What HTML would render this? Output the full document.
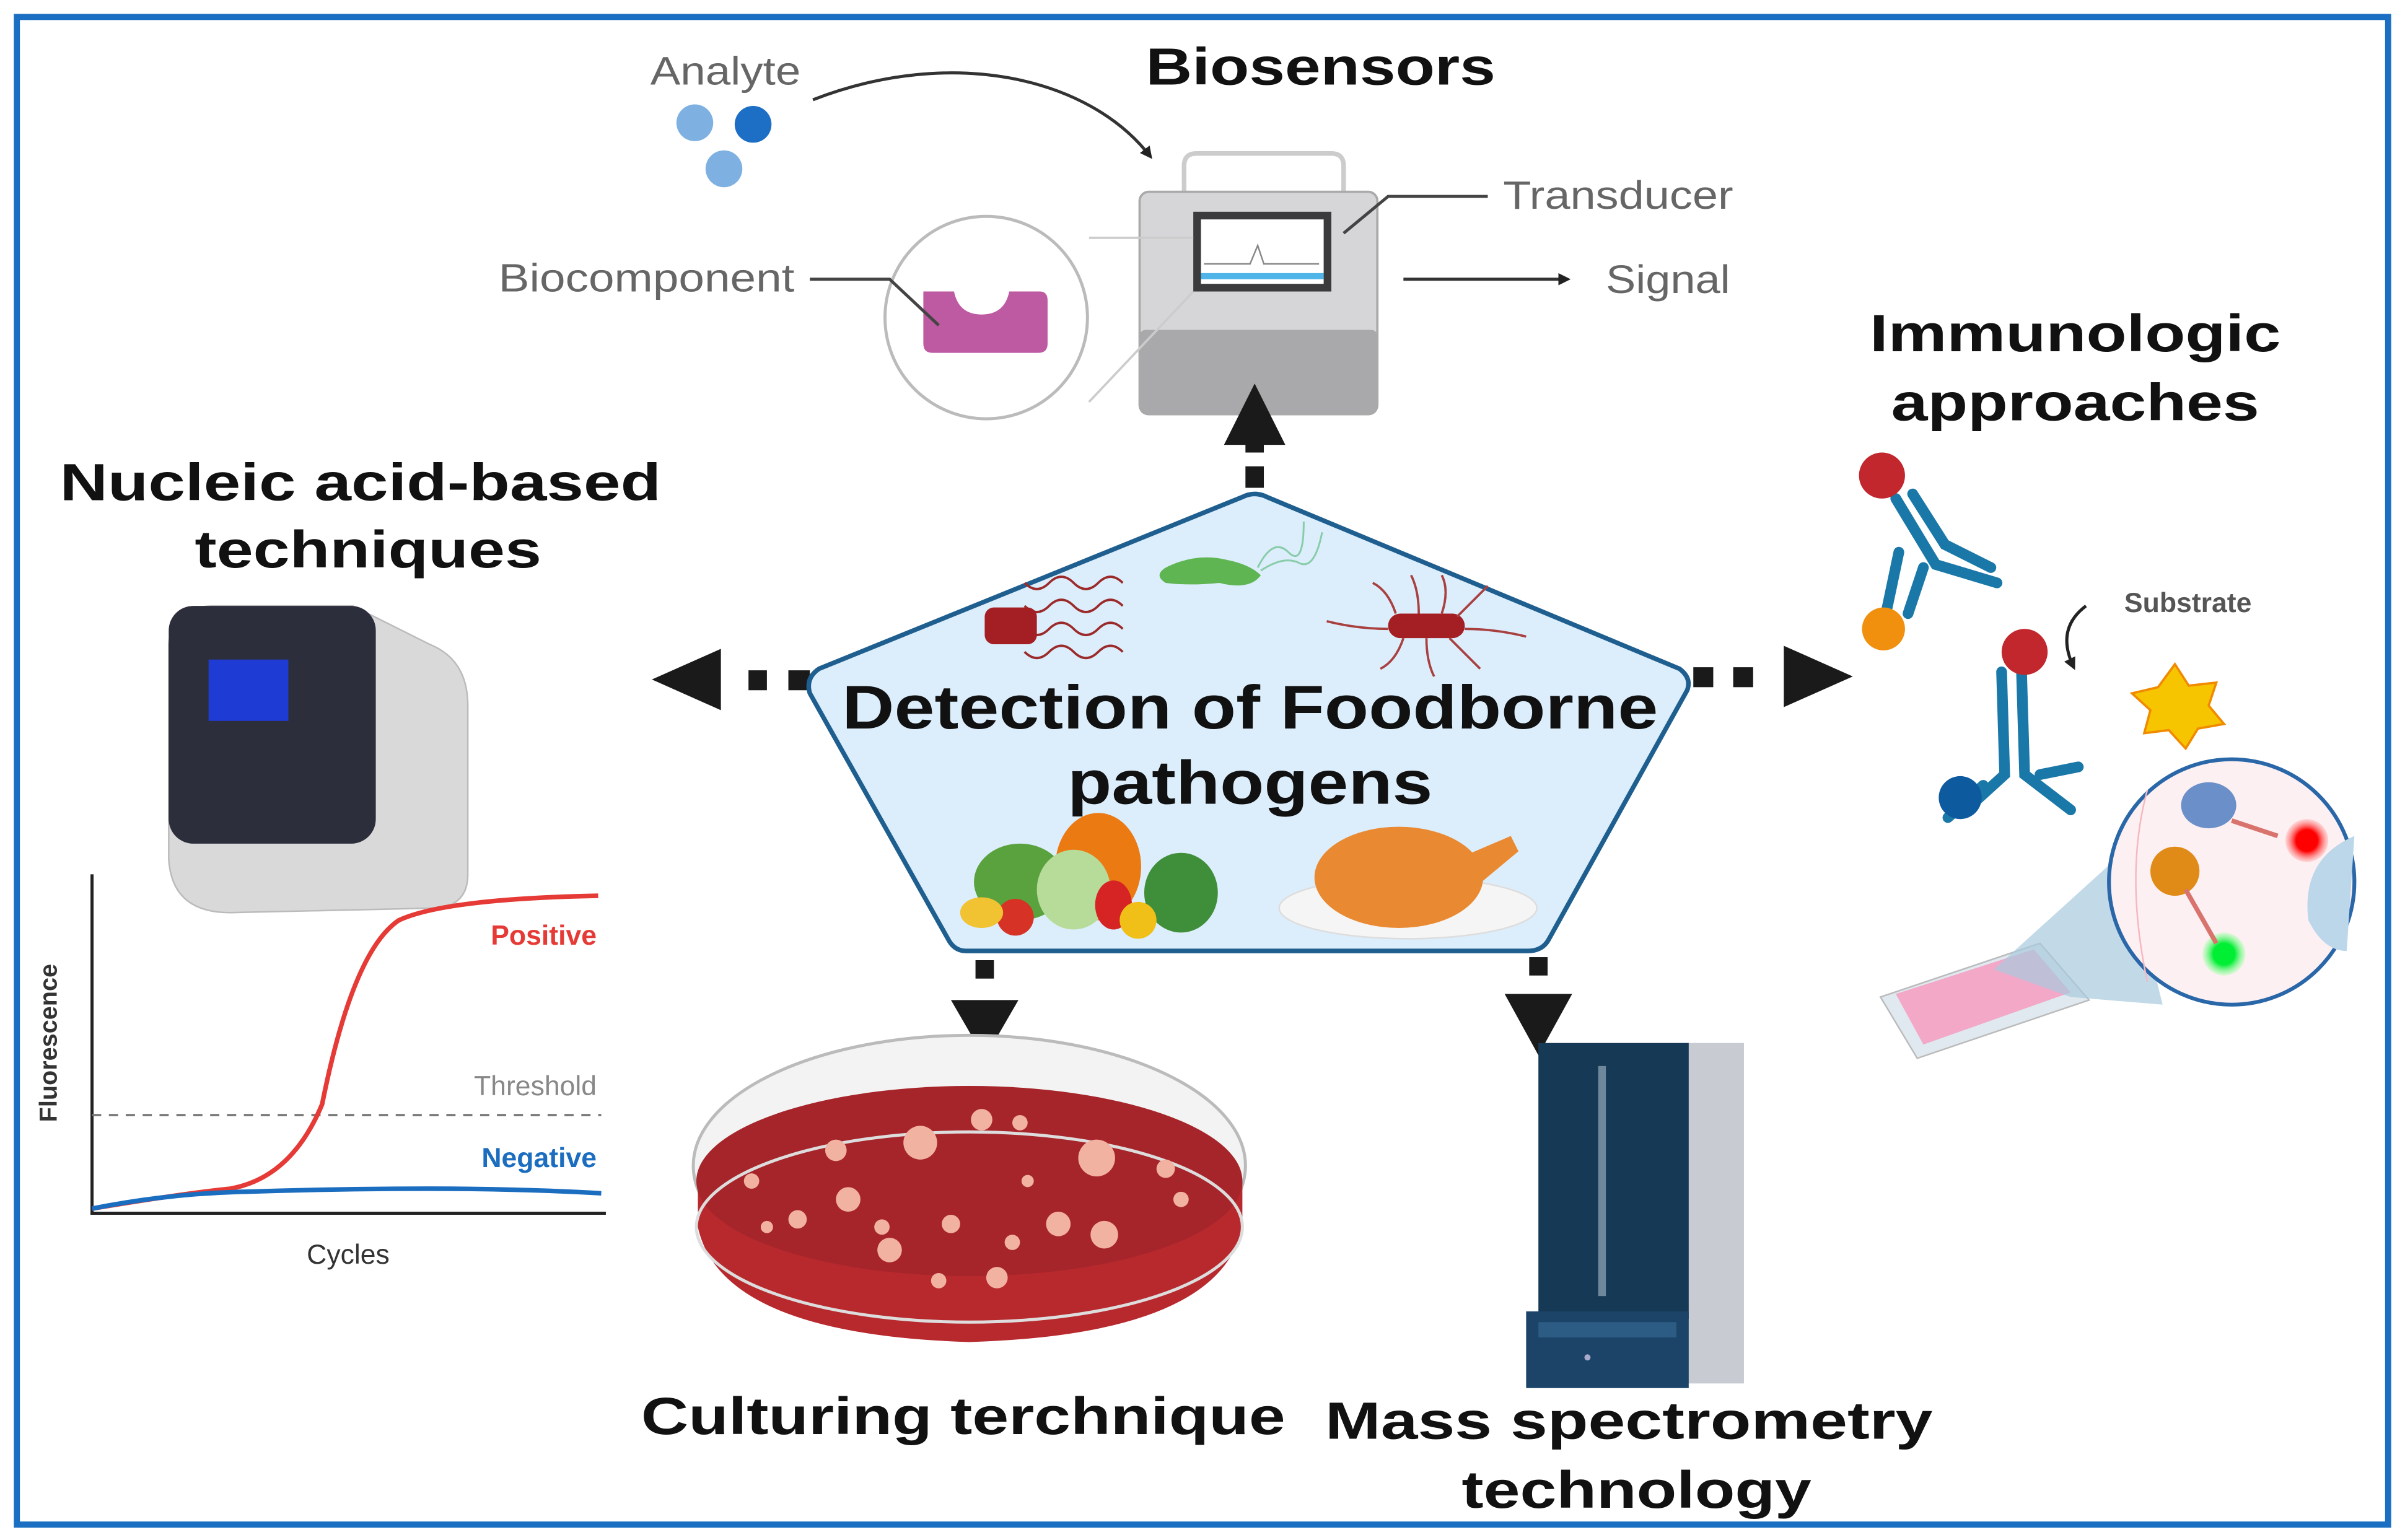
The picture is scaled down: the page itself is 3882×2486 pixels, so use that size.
<!DOCTYPE html>
<html><head><meta charset="utf-8"><style>
html,body{margin:0;padding:0;background:#fff;}
svg{display:block;}
text{font-family:"Liberation Sans",sans-serif;}
</style></head><body>
<svg width="3882" height="2486" viewBox="0 0 1568 1004" xmlns="http://www.w3.org/2000/svg">
<defs>
<marker id="ah" markerWidth="8" markerHeight="8" refX="6" refY="4" orient="auto" markerUnits="userSpaceOnUse"><path d="M0,0 L8,4 L0,8 z" fill="#222"/></marker>
<radialGradient id="rg"><stop offset="0" stop-color="#f00"/><stop offset="0.5" stop-color="#f00"/><stop offset="1" stop-color="#fbb" stop-opacity="0.5"/></radialGradient>
<radialGradient id="gg"><stop offset="0" stop-color="#0e3"/><stop offset="0.5" stop-color="#0e3"/><stop offset="1" stop-color="#bfb" stop-opacity="0.5"/></radialGradient>
</defs>
<rect x="0" y="0" width="1568" height="1004" fill="#fff"/>
<rect x="11" y="11" width="1546" height="983" fill="none" stroke="#1b6fc2" stroke-width="4"/>

<!-- Biosensors -->
<text x="861" y="55" font-size="34" font-weight="bold" text-anchor="middle" fill="#111" textLength="228" lengthAdjust="spacingAndGlyphs">Biosensors</text>
<text x="424" y="55" font-size="26" fill="#666" textLength="98" lengthAdjust="spacingAndGlyphs">Analyte</text>
<circle cx="453" cy="80" r="12" fill="#7eb1e2"/>
<circle cx="491" cy="81" r="12" fill="#1d6ec5"/>
<circle cx="472" cy="110" r="12" fill="#7eb1e2"/>
<path d="M530,65 C620,30 710,50 750,102" fill="none" stroke="#333" stroke-width="2" marker-end="url(#ah)"/>
<!-- device -->
<path d="M772,128 L772,108 Q772,100 780,100 L868,100 Q876,100 876,108 L876,128" fill="none" stroke="#ccc" stroke-width="3"/>
<rect x="743" y="125" width="155" height="145" rx="6" fill="#d6d6d8" stroke="#aaa" stroke-width="1.5"/>
<rect x="743" y="215" width="155" height="55" rx="4" fill="#a9a9ab"/>
<rect x="778" y="138" width="90" height="52" fill="#3b3b3d"/>
<rect x="783" y="143" width="80" height="42" fill="#fff"/>
<path d="M785,172 L815,172 L820,160 L824,172 L860,172" stroke="#888" fill="none"/>
<rect x="783" y="178" width="80" height="4" fill="#4fb4e8"/>
<line x1="710" y1="155" x2="778" y2="155" stroke="#ccc" stroke-width="1.5"/>
<line x1="710" y1="262" x2="778" y2="190" stroke="#ccc" stroke-width="1.5"/>
<circle cx="643" cy="207" r="66" fill="#fff" stroke="#bbb" stroke-width="2"/>
<path d="M602,190 L622,190 Q625,205 640,205 Q655,205 658,190 L678,190 Q683,190 683,196 L683,224 Q683,230 677,230 L608,230 Q602,230 602,224 z" fill="#bd5aa2"/>
<text x="325" y="190" font-size="26" fill="#666" textLength="193" lengthAdjust="spacingAndGlyphs">Biocomponent</text>
<polyline points="528,182 580,182 612,212" fill="none" stroke="#444" stroke-width="2"/>
<text x="980" y="136" font-size="26" fill="#666" textLength="150" lengthAdjust="spacingAndGlyphs">Transducer</text>
<polyline points="876,152 905,128 970,128" fill="none" stroke="#444" stroke-width="2"/>
<text x="1047" y="191" font-size="26" fill="#666" textLength="81" lengthAdjust="spacingAndGlyphs">Signal</text>
<line x1="915" y1="182" x2="1022" y2="182" stroke="#333" stroke-width="2" marker-end="url(#ah)"/>

<!-- arrows -->
<g fill="#1a1a1a">
<rect x="812" y="304" width="12" height="14"/><rect x="812" y="285" width="12" height="10"/>
<path d="M818,250 L838,290 L798,290 z"/>
<rect x="514" y="437" width="14" height="13"/><rect x="488" y="437" width="12" height="13"/>
<path d="M425,443 L470,423 L470,463 z"/>
<rect x="1104" y="435" width="13" height="13"/><rect x="1130" y="435" width="13" height="13"/>
<path d="M1208,441 L1163,421 L1163,461 z"/>
<rect x="636" y="626" width="12" height="12"/><path d="M620,652 L664,652 L642,690 z"/>
<rect x="997" y="624" width="12" height="12"/><path d="M981,648 L1025,648 L1003,688 z"/>
</g>

<!-- Pentagon -->
<path d="M810,324 Q818,320 826,324 L1095,436 Q1103,442 1100,450 L1010,612 Q1006,620 996,620 L630,620 Q622,620 618,612 L528,452 Q525,442 534,436 z" fill="#dcedfb" stroke="#1f5f8f" stroke-width="3"/>
<path d="M668,380 q8,8 16,0 t16,0 t16,0 t16,0 M668,395 q8,8 16,0 t16,0 t16,0 t16,0 M668,410 q8,8 16,0 t16,0 t16,0 t16,0 M668,425 q8,8 16,0 t16,0 t16,0 t16,0" fill="none" stroke="#9b2a2a" stroke-width="1.5"/>
<rect x="642" y="396" width="34" height="24" rx="6" fill="#a31f24"/>
<path d="M760,370 Q780,360 800,365 Q815,368 822,375 Q815,385 795,380 Q775,382 760,380 Q752,375 760,370z" fill="#5fb552"/>
<path d="M820,370 q10,-20 20,-10 t10,-20 M822,372 q15,-10 25,-5 t15,-20" fill="none" stroke="#8ca" stroke-width="1.2"/>
<rect x="905" y="400" width="50" height="16" rx="8" fill="#a31f24"/>
<path d="M910,400 q-5,-15 -15,-20 M925,400 q0,-15 -5,-25 M940,400 q5,-15 0,-25 M950,402 q10,-10 20,-20 M905,410 q-20,0 -40,-5 M955,410 q20,0 40,5 M915,416 q-5,15 -15,20 M930,416 q0,15 5,25 M945,416 q10,10 20,20" fill="none" stroke="#a84040" stroke-width="1.5"/>
<text x="815" y="475" font-size="40" font-weight="bold" text-anchor="middle" fill="#111" textLength="532" lengthAdjust="spacingAndGlyphs">Detection of Foodborne</text>
<text x="815" y="524" font-size="40" font-weight="bold" text-anchor="middle" fill="#111" textLength="238" lengthAdjust="spacingAndGlyphs">pathogens</text>
<ellipse cx="716" cy="565" rx="28" ry="35" fill="#ec7a12"/>
<ellipse cx="665" cy="575" rx="30" ry="25" fill="#5aa23e"/>
<ellipse cx="700" cy="580" rx="24" ry="26" fill="#b7dc9a"/>
<ellipse cx="770" cy="582" rx="24" ry="26" fill="#3f8f3a"/>
<circle cx="662" cy="598" r="12" fill="#d63225"/>
<ellipse cx="726" cy="590" rx="12" ry="16" fill="#d62424"/>
<ellipse cx="742" cy="600" rx="12" ry="12" fill="#f0c018"/>
<ellipse cx="640" cy="595" rx="14" ry="10" fill="#f1c232"/>
<ellipse cx="918" cy="592" rx="84" ry="20" fill="#f5f5f5" stroke="#ddd"/>
<ellipse cx="912" cy="572" rx="55" ry="33" fill="#e98a32"/>
<path d="M950,560 L985,545 L990,555 L960,580z" fill="#e98a32"/>

<!-- Nucleic -->
<text x="235" y="326" font-size="34" font-weight="bold" text-anchor="middle" fill="#111" textLength="392" lengthAdjust="spacingAndGlyphs">Nucleic acid-based</text>
<text x="240" y="370" font-size="34" font-weight="bold" text-anchor="middle" fill="#111" textLength="226" lengthAdjust="spacingAndGlyphs">techniques</text>
<path d="M230,395 L280,420 Q305,430 305,460 L305,570 Q305,590 285,592 L150,595 Q112,595 110,560 L110,420 Q112,395 140,395z" fill="#d9d9d9" stroke="#bbb"/>
<rect x="110" y="395" width="135" height="155" rx="16" fill="#2d2e3c"/>
<rect x="136" y="430" width="52" height="40" fill="#1e3bd4"/>
<line x1="60" y1="570" x2="60" y2="792" stroke="#222" stroke-width="2"/>
<line x1="59" y1="791" x2="395" y2="791" stroke="#222" stroke-width="2"/>
<line x1="60" y1="727" x2="392" y2="727" stroke="#777" stroke-width="1.5" stroke-dasharray="6,5"/>
<path d="M60,788 Q120,778 150,775 Q190,768 210,720 Q230,620 260,600 Q290,586 390,584" fill="none" stroke="#e53a35" stroke-width="3"/>
<path d="M60,788 Q110,778 160,777 Q220,775 280,775 Q340,775 392,778" fill="none" stroke="#1b6dbf" stroke-width="3"/>
<text x="389" y="616" font-size="18" font-weight="bold" text-anchor="end" fill="#e53a35">Positive</text>
<text x="389" y="714" font-size="18" text-anchor="end" fill="#888">Threshold</text>
<text x="389" y="761" font-size="18" font-weight="bold" text-anchor="end" fill="#1b6dbf">Negative</text>
<text x="227" y="824" font-size="18" text-anchor="middle" fill="#333">Cycles</text>
<text transform="translate(37,680) rotate(-90)" font-size="16" font-weight="bold" text-anchor="middle" fill="#333">Fluorescence</text>

<!-- Immunologic -->
<text x="1353" y="229" font-size="34" font-weight="bold" text-anchor="middle" fill="#111" textLength="268" lengthAdjust="spacingAndGlyphs">Immunologic</text>
<text x="1353" y="274" font-size="34" font-weight="bold" text-anchor="middle" fill="#111" textLength="240" lengthAdjust="spacingAndGlyphs">approaches</text>
<g stroke="#1a78a8" stroke-width="7" stroke-linecap="round" fill="none">
<path d="M1236,325 L1262,368 L1302,380 M1247,322 L1268,355 L1298,370"/>
<path d="M1254,370 L1244,400 M1238,360 L1230,398"/>
<path d="M1305,438 L1307,505 L1285,525 M1318,438 L1320,505 L1350,528 M1293,512 L1270,533 M1330,505 L1355,500"/>
</g>
<circle cx="1227" cy="310" r="15" fill="#c1272d"/>
<circle cx="1228" cy="410" r="14" fill="#f0900e"/>
<circle cx="1320" cy="425" r="15" fill="#c1272d"/>
<circle cx="1278" cy="520" r="14" fill="#0d5a9f"/>
<path d="M1360,395 Q1340,410 1352,435" fill="none" stroke="#222" stroke-width="2" marker-end="url(#ah)"/>
<text x="1385" y="399" font-size="18" font-weight="bold" fill="#555">Substrate</text>
<path d="M1418,433 L1427,447 L1445,445 L1440,460 L1450,472 L1433,475 L1425,488 L1414,476 L1398,478 L1402,463 L1390,452 L1407,448z" fill="#f6c500" stroke="#f08a00" stroke-width="1.5"/>
<path d="M1226,650 L1330,615 L1362,652 L1250,690z" fill="#dfe9ef" stroke="#bbb"/>
<path d="M1236,648 L1326,619 L1350,647 L1254,681z" fill="#f3a8c8"/>
<path d="M1300,632 L1385,555 L1410,655 L1350,650z" fill="#a8c9de" opacity="0.7"/>
<circle cx="1455" cy="575" r="80" fill="#fdf0f2" stroke="#2a67a8" stroke-width="2.5"/>
<path d="M1400,515 Q1385,570 1400,640" stroke="#f5b8c0" fill="none"/>
<path d="M1535,545 Q1500,560 1505,600 Q1515,620 1530,620z" fill="#bcd7ea"/>
<ellipse cx="1440" cy="525" rx="18" ry="15" fill="#6a8fc9"/>
<ellipse cx="1418" cy="568" rx="16" ry="16" fill="#e08a17"/>
<circle cx="1504" cy="548" r="14" fill="url(#rg)"/>
<circle cx="1450" cy="622" r="14" fill="url(#gg)"/>
<path d="M1455,535 L1485,545 M1425,580 L1445,615" stroke="#d9736e" stroke-width="3"/>

<!-- Petri -->
<ellipse cx="632" cy="760" rx="180" ry="85" fill="#f3f3f3" stroke="#bbb" stroke-width="2"/>
<path d="M455,770 L455,800 Q470,870 632,875 Q795,870 810,800 L810,770z" fill="#b8292e"/>
<ellipse cx="632" cy="770" rx="178" ry="62" fill="#a6252a"/>
<ellipse cx="632" cy="800" rx="178" ry="62" fill="none" stroke="#ddd" stroke-width="2"/>
<g fill="#f2b2a2">
<circle cx="640" cy="730" r="7"/><circle cx="665" cy="732" r="5"/><circle cx="600" cy="745" r="11"/><circle cx="545" cy="750" r="7"/><circle cx="715" cy="755" r="12"/><circle cx="490" cy="770" r="5"/><circle cx="553" cy="782" r="8"/><circle cx="670" cy="770" r="4"/><circle cx="760" cy="762" r="6"/><circle cx="520" cy="795" r="6"/><circle cx="575" cy="800" r="5"/><circle cx="620" cy="798" r="6"/><circle cx="690" cy="798" r="8"/><circle cx="720" cy="805" r="9"/><circle cx="580" cy="815" r="8"/><circle cx="660" cy="810" r="5"/><circle cx="612" cy="835" r="5"/><circle cx="650" cy="833" r="7"/><circle cx="500" cy="800" r="4"/><circle cx="770" cy="782" r="5"/>
</g>
<text x="628" y="935" font-size="34" font-weight="bold" text-anchor="middle" fill="#111" textLength="420" lengthAdjust="spacingAndGlyphs">Culturing terchnique</text>

<!-- Mass spec -->
<rect x="1095" y="680" width="42" height="222" fill="#c8ccd2"/>
<rect x="1003" y="680" width="98" height="180" fill="#163a55"/>
<rect x="1042" y="695" width="5" height="150" fill="#6e879b"/>
<rect x="995" y="855" width="106" height="50" fill="#1b4468"/>
<rect x="1003" y="862" width="90" height="10" fill="#2c5b84"/>
<circle cx="1035" cy="885" r="2" fill="#aac"/>
<text x="1062" y="938" font-size="34" font-weight="bold" text-anchor="middle" fill="#111" textLength="396" lengthAdjust="spacingAndGlyphs">Mass spectrometry</text>
<text x="1067" y="983" font-size="34" font-weight="bold" text-anchor="middle" fill="#111" textLength="228" lengthAdjust="spacingAndGlyphs">technology</text>
</svg>
</body></html>
